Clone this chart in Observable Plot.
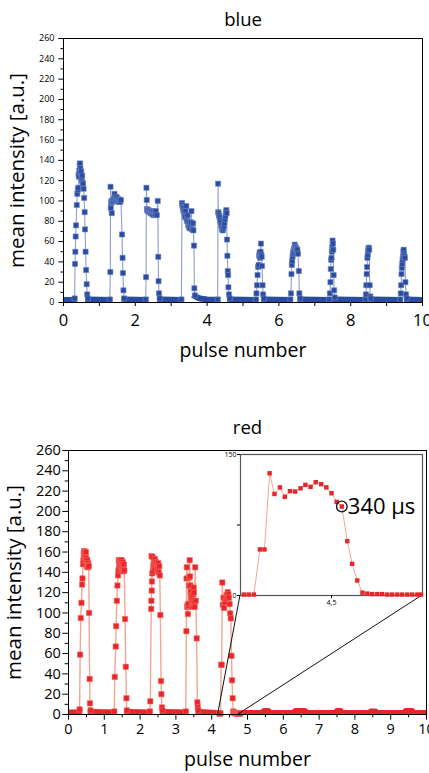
<!DOCTYPE html>
<html><head><meta charset="utf-8">
<script src="https://cdn.jsdelivr.net/npm/d3@7"></script>
<script src="https://cdn.jsdelivr.net/npm/@observablehq/plot@0.6"></script>
<style>
html,body{margin:0;padding:0;background:#fff;overflow:hidden}
#wrap{position:relative;width:429px;height:773px;font-family:"Open Sans",sans-serif}
</style></head><body><div id="wrap"></div>
<script>
// ---------- tick values ----------
const yTicks = [0,20,40,60,80,100,120,140,160,180,200,220,240,260];
const yMinor = [10,30,50,70,90,110,130,150,170,190,210,230,250];
const blueXTicks = [0,2,4,6,8,10];
const blueXMinor = [1,3,5,7,9];
const redXTicks = [0,1,2,3,4,5,6,7,8,9,10];
const redXMinor = [0.5,1.5,2.5,3.5,4.5,5.5,6.5,7.5,8.5,9.5];
const insetXDomain = [4.2, 4.8];
const insetYDomain = [0, 150];
const insetYLabeled = [0, 150];
const insetYMinor = [75];
const insetXTicks = [4.5];
const connectorFrom = [4.18, 4.75];

// ---------- blue series: pulses [x, y] ----------
const blueP1 = [[0.31,4],[0.322,38],[0.33,50],[0.338,65],[0.35,76],[0.37,96],[0.385,107],[0.40,111],[0.41,113],[0.42,126],[0.43,124],[0.44,130],[0.45,136],[0.46,137],[0.47,132],[0.48,127],[0.49,129],[0.50,123],[0.51,120],[0.52,125],[0.53,118],[0.545,117],[0.56,112],[0.575,103],[0.59,89],[0.60,72],[0.615,50],[0.63,32],[0.645,18],[0.66,8],[0.68,4]];
const blueP2 = [[1.29,3],[1.305,30],[1.31,114],[1.318,93],[1.325,98],[1.335,100],[1.345,88],[1.36,99],[1.38,100],[1.40,102],[1.42,107],[1.44,103],[1.46,101],[1.48,104],[1.50,100],[1.52,102],[1.54,99],[1.56,101],[1.58,99],[1.60,101],[1.63,67],[1.645,44],[1.655,29],[1.67,12],[1.69,4]];
const blueP3 = [[2.29,3],[2.30,25],[2.31,113],[2.318,101],[2.325,92],[2.335,91],[2.35,90],[2.37,91],[2.39,89],[2.41,90],[2.43,88],[2.45,89],[2.47,87],[2.49,90],[2.51,86],[2.53,89],[2.55,87],[2.57,90],[2.60,86],[2.625,100],[2.64,45],[2.648,21],[2.66,9],[2.68,4]];
const blueP4 = [[3.285,3],[3.30,98],[3.31,96],[3.32,94],[3.335,91],[3.35,93],[3.36,89],[3.375,86],[3.39,84],[3.40,90],[3.42,95],[3.43,82],[3.445,80],[3.46,86],[3.475,76],[3.49,79],[3.505,74],[3.52,73],[3.535,77],[3.55,79],[3.565,90],[3.58,72],[3.595,72],[3.61,78],[3.62,71],[3.635,56],[3.645,14],[3.66,7]];
const blueP5 = [[4.295,3],[4.305,117],[4.31,89],[4.32,88],[4.33,86],[4.345,84],[4.36,81],[4.375,79],[4.39,76],[4.405,74],[4.42,72],[4.435,71],[4.45,73],[4.465,75],[4.48,78],[4.495,82],[4.51,85],[4.525,89],[4.535,91],[4.545,88],[4.555,62],[4.565,46],[4.575,31],[4.585,27],[4.595,15],[4.61,8],[4.63,4]];
const blueP6 = [[5.36,3],[5.375,9],[5.39,17],[5.405,27],[5.42,35],[5.435,37],[5.45,46],[5.46,49],[5.475,44],[5.49,50],[5.50,58],[5.51,47],[5.52,45],[5.53,36],[5.545,17],[5.56,8],[5.58,4]];
const blueP7 = [[6.32,3],[6.335,9],[6.35,28],[6.36,37],[6.37,41],[6.38,45],[6.39,48],[6.40,50],[6.41,49],[6.42,53],[6.43,52],[6.44,57],[6.45,55],[6.46,51],[6.47,54],[6.48,53],[6.495,51],[6.515,52],[6.53,48],[6.555,31],[6.57,9],[6.59,4]];
const blueP8 = [[7.40,3],[7.42,9],[7.435,20],[7.445,33],[7.455,42],[7.465,44],[7.475,50],[7.485,55],[7.495,61],[7.505,58],[7.515,52],[7.525,27],[7.54,12],[7.555,5]];
const blueP9 = [[8.41,3],[8.425,8],[8.435,17],[8.445,28],[8.455,35],[8.465,44],[8.475,47],[8.485,51],[8.495,53],[8.505,54],[8.515,52],[8.53,17],[8.545,6],[8.56,4]];
const blueP10 = [[9.38,3],[9.395,9],[9.405,17],[9.415,28],[9.425,34],[9.435,38],[9.445,42],[9.455,45],[9.465,50],[9.475,52],[9.485,48],[9.495,46],[9.51,44],[9.525,20],[9.54,8],[9.56,4]];
// blue baseline runs between pulses
const blueBase = [
  [[0,2.5],[0.30,2.5]],
  [[0.69,3],[1.28,2.5]],
  [[1.70,3],[2.28,2.5]],
  [[2.69,3],[3.275,2.5]],
  [[3.67,6],[3.72,5],[3.80,4],[3.90,3.5],[4.0,3],[4.285,2.5]],
  [[4.64,3],[5.35,2.5]],
  [[5.59,3],[6.31,2.5]],
  [[6.60,3],[7.39,2.5]],
  [[7.565,3],[8.40,2.5]],
  [[8.57,3],[9.37,2.5]],
  [[9.57,3],[10,2.5]]
];

// ---------- red series ----------
const redP1 = [[0.31,5],[0.325,59],[0.343,95],[0.362,110],[0.38,128],[0.39,134],[0.405,148],[0.415,152],[0.425,158],[0.435,161],[0.445,155],[0.455,160],[0.465,157],[0.475,152],[0.485,160],[0.495,154],[0.505,149],[0.515,146],[0.525,152],[0.535,145],[0.545,149],[0.555,147],[0.565,146],[0.575,100],[0.59,35],[0.60,11],[0.615,4]];
const redP2 = [[1.28,3],[1.292,37],[1.32,67],[1.33,87],[1.35,112],[1.367,127],[1.385,137],[1.395,142],[1.405,152],[1.415,147],[1.425,151],[1.435,145],[1.445,152],[1.455,148],[1.465,143],[1.475,150],[1.485,152],[1.495,146],[1.505,142],[1.515,150],[1.525,144],[1.535,141],[1.545,148],[1.56,142],[1.58,94],[1.60,47],[1.618,16],[1.63,4]];
const redP3 = [[2.27,3],[2.285,13],[2.31,104],[2.315,112],[2.318,156],[2.325,122],[2.33,131],[2.34,139],[2.35,155],[2.36,141],[2.37,146],[2.385,149],[2.40,144],[2.415,153],[2.43,147],[2.445,150],[2.46,146],[2.475,148],[2.49,143],[2.505,149],[2.52,140],[2.535,146],[2.55,137],[2.565,98],[2.585,33],[2.595,20],[2.61,7],[2.625,4]];
const redP4 = [[3.275,3],[3.293,82],[3.298,134],[3.305,145],[3.315,106],[3.325,108],[3.335,99],[3.345,107],[3.355,109],[3.365,127],[3.375,135],[3.385,152],[3.395,136],[3.405,127],[3.415,121],[3.425,117],[3.435,113],[3.445,106],[3.455,110],[3.465,118],[3.475,111],[3.485,107],[3.495,125],[3.505,120],[3.515,110],[3.525,106],[3.54,145],[3.555,112],[3.58,75],[3.60,12],[3.61,7],[3.625,4]];
// pulse 5, shown enlarged in the inset
const redP5 = [[4.211,1],[4.227,1],[4.244,1],[4.264,49],[4.279,49],[4.296,130],[4.312,108],[4.330,115],[4.346,105],[4.363,111],[4.380,110.6],[4.398,114],[4.414,117.7],[4.431,115.6],[4.448,120.5],[4.466,118.4],[4.483,115],[4.500,108.8],[4.517,99.6],[4.534,94.7],[4.552,57.8],[4.568,33.7],[4.585,16],[4.602,3],[4.618,2],[4.634,1.5],[4.651,1.5],[4.667,1.5],[4.684,1],[4.700,1],[4.717,1],[4.733,1],[4.750,1],[4.766,1],[4.783,1],[4.795,1]];
const redBase = [
  [[0,2],[0.30,2]],
  [[0.625,2.5],[1.27,2]],
  [[1.64,2.5],[2.26,2]],
  [[2.635,2.5],[3.265,2]],
  [[3.635,2.5],[4.211,1.5]],
  [[4.795,1.5],[5.40,1.5],[5.46,3.5],[5.58,3.5],[5.64,1.5],[6.28,1.5],[6.34,3.5],[6.60,3.5],[6.66,1.5],[7.46,1.5],[7.50,3.5],[7.60,3.5],[7.64,1.5],[8.40,1.5],[8.44,3],[8.58,3],[8.62,1.5],[9.38,1.5],[9.42,3.5],[9.60,3.5],[9.64,1.5],[10,1.5]]
];
const note = [{x: 4.534, y: 94.7, label: "340 µs"}];

// ---------- colours ----------
const blueDark = "#2a4c9e", blueLight = "#8f9dd3", blueEdge = "#6f86c8";
const redDark = "#e8252b", redLight = "#f7a58f", redEdge = "#f26a5e";
const FONT = "'Open Sans', 'DejaVu Sans', sans-serif";

const bluePulses = [blueP1,blueP2,blueP3,blueP4,blueP5,blueP6,blueP7,blueP8,blueP9,blueP10];
const redPulses = [redP1,redP2,redP3,redP4,redP5];

function trace(base, pulses) {
  return [...base.flat(), ...pulses.flat()].sort((a, b) => a[0] - b[0]);
}
function bandRows(base) {
  return base.flatMap((seg, i) => seg.map(p => ({x: p[0], y: p[1], s: i})));
}

const wrap = document.getElementById("wrap");
function place(el, left, top) {
  el.style.position = "absolute";
  el.style.left = left + "px";
  el.style.top = top + "px";
  wrap.appendChild(el);
  return el;
}

// ---------- blue chart ----------
const chart1 = Plot.plot({
  width: 429, height: 380,
  marginTop: 38, marginRight: 7, marginBottom: 78, marginLeft: 63,
  x: {domain: [0, 10]},
  y: {domain: [0, 260]},
  style: {fontFamily: FONT, background: "transparent", color: "#000"},
  marks: [
    Plot.axisY({ticks: yMinor, tickSize: 2.5, tickFormat: () => "", label: null}),
    Plot.axisY({ticks: yTicks, tickSize: 4.7, tickPadding: 4.3, fontSize: 9, label: null}),
    Plot.axisX({ticks: blueXMinor, tickSize: 4, tickFormat: () => "", label: null}),
    Plot.axisX({ticks: blueXTicks, tickSize: 4, tickPadding: 7.3, fontSize: 16.5, label: null}),
    Plot.line(trace(blueBase, bluePulses), {x: d => d[0], y: d => d[1], stroke: blueLight, strokeWidth: 1.1}),
    Plot.line(bandRows(blueBase), {x: "x", y: "y", z: "s", stroke: blueDark, strokeWidth: 6, strokeLinecap: "square", clip: true}),
    Plot.dot(bluePulses.flat(), {x: d => d[0], y: d => d[1], symbol: "square", r: 2.9, fill: blueDark, stroke: blueEdge, strokeWidth: 0.6}),
    Plot.frame({stroke: "#000", strokeWidth: 1}),
    Plot.text(["blue"], {text: d => d, frameAnchor: "top", dy: -18, fontSize: 18.5, lineAnchor: "middle"}),
    Plot.text(["pulse number"], {text: d => d, frameAnchor: "bottom", dy: 48, fontSize: 19.5, lineAnchor: "middle"}),
    Plot.text(["mean intensity [a.u.]"], {text: d => d, frameAnchor: "left", dx: -46, rotate: -90, textAnchor: "middle", lineAnchor: "middle", fontSize: 20.5})
  ]
});
place(chart1, 0, 0);

// ---------- red chart ----------
const chart2 = Plot.plot({
  width: 429, height: 373,
  marginTop: 50, marginRight: 3, marginBottom: 59, marginLeft: 68,
  x: {domain: [0, 10]},
  y: {domain: [0, 260]},
  style: {fontFamily: FONT, background: "transparent", color: "#000"},
  marks: [
    Plot.axisY({ticks: yMinor, tickSize: 3.3, tickFormat: () => "", label: null}),
    Plot.axisY({ticks: yTicks, tickSize: 5.7, tickPadding: 2, fontSize: 14.5, label: null}),
    Plot.axisX({ticks: redXMinor, tickSize: 3.3, tickFormat: () => "", label: null}),
    Plot.axisX({ticks: redXTicks, tickSize: 5.7, tickPadding: 3.6, fontSize: 14.5, label: null}),
    Plot.line(trace(redBase, redPulses), {x: d => d[0], y: d => d[1], stroke: redLight, strokeWidth: 1.4}),
    Plot.line(bandRows(redBase), {x: "x", y: "y", z: "s", stroke: redDark, strokeWidth: 6, strokeLinecap: "square", clip: true}),
    Plot.dot(redPulses.flat(), {x: d => d[0], y: d => d[1], symbol: "square", r: 3, fill: redDark, stroke: redEdge, strokeWidth: 0.6}),
    Plot.frame({stroke: "#000", strokeWidth: 1}),
    Plot.text(["red"], {text: d => d, frameAnchor: "top", dy: -22, fontSize: 18.5, lineAnchor: "middle"}),
    Plot.text(["pulse number"], {text: d => d, frameAnchor: "bottom", dy: 45, fontSize: 19.5, lineAnchor: "middle"}),
    Plot.text(["mean intensity [a.u.]"], {text: d => d, frameAnchor: "left", dx: -54, rotate: -90, textAnchor: "middle", lineAnchor: "middle", fontSize: 20.5})
  ]
});
place(chart2, 0, 400);

// ---------- inset ----------
const INSET_LEFT = 220, INSET_TOP = 448;
const inset = Plot.plot({
  width: 206, height: 161,
  marginTop: 6, marginRight: 4, marginBottom: 14, marginLeft: 20,
  x: {domain: insetXDomain},
  y: {domain: insetYDomain},
  style: {fontFamily: FONT, background: "transparent", color: "#000", overflow: "visible"},
  marks: [
    Plot.frame({fill: "white", stroke: "#555", strokeWidth: 1.2}),
    Plot.axisY({ticks: insetYMinor, tickSize: 3, tickFormat: () => "", label: null}),
    Plot.axisY({ticks: insetYLabeled, tickSize: 3, tickPadding: 1, fontSize: 7, label: null}),
    Plot.axisX({ticks: insetXTicks, tickSize: 3, tickPadding: 1.5, fontSize: 7, label: null, tickFormat: d => String(d).replace(".", ",")}),
    Plot.line(redP5, {x: d => d[0], y: d => d[1], stroke: redLight, strokeWidth: 1}),
    Plot.dot(redP5, {x: d => d[0], y: d => d[1], symbol: "square", r: 2.5, fill: redDark}),
    Plot.dot(note, {x: "x", y: "y", r: 5.3, fill: "none", stroke: "#111", strokeWidth: 1.3}),
    Plot.text(note, {x: "x", y: "y", text: "label", dx: 6, textAnchor: "start", lineAnchor: "middle", fontSize: 22})
  ]
});

// ---------- connector lines from main axis to inset corners ----------
const mx = chart2.scale("x"), my = chart2.scale("y");
const ix = inset.scale("x"), iy = inset.scale("y");
const corners = [
  [INSET_LEFT + ix.apply(insetXDomain[0]), INSET_TOP + iy.apply(insetYDomain[0])],
  [INSET_LEFT + ix.apply(insetXDomain[1]), INSET_TOP + iy.apply(insetYDomain[0])]
];
const over = d3.create("svg").attr("width", 429).attr("height", 773);
connectorFrom.forEach((v, i) => {
  over.append("line")
    .attr("x1", mx.apply(v)).attr("y1", 400 + my.apply(0))
    .attr("x2", corners[i][0]).attr("y2", corners[i][1])
    .attr("stroke", "#111").attr("stroke-width", 1);
});
place(over.node(), 0, 0);
place(inset, INSET_LEFT, INSET_TOP);
</script></body></html>
